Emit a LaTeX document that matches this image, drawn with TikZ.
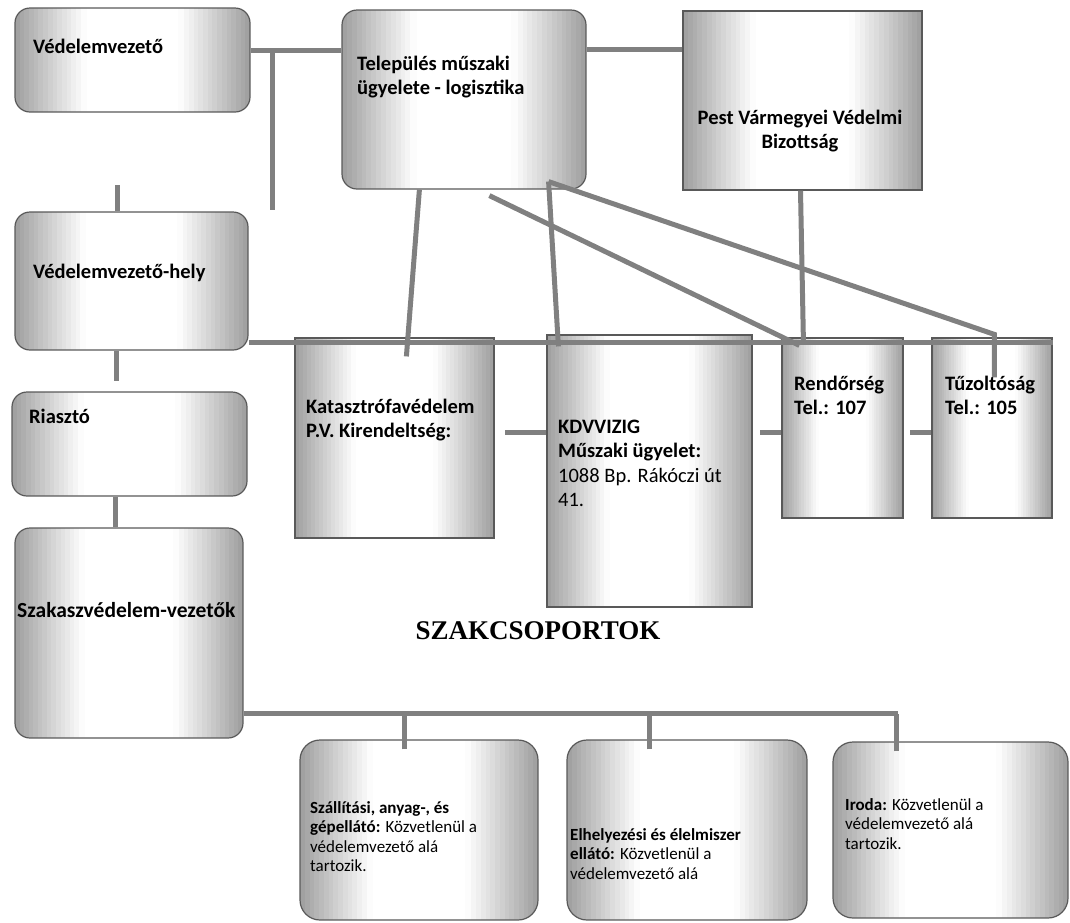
\documentclass[tikz,border=0pt]{standalone}
\usepackage{fontspec}
\setmainfont{Carlito}
\newfontfamily\headfont{Liberation Serif}
\usetikzlibrary{calc}
\tikzset{
  rbox/.style={draw=black!65, line width=1.2pt, rounded corners=15pt, inner sep=0pt, fill=white,
    path picture={
      \foreach \k in {0,...,14}{
        \pgfmathsetmacro\ga{\k/50}
        \pgfmathsetmacro\gb{(\k+1.3)/50}
        \pgfmathsetmacro\gc{38*(1-(\k+0.5)/15)}
        \fill[black!\gc, sharp corners] ($(path picture bounding box.south west)!\ga!(path picture bounding box.south east)$)
          rectangle ($(path picture bounding box.north west)!\gb!(path picture bounding box.north east)$);
        \fill[black!\gc, sharp corners] ($(path picture bounding box.south east)!\ga!(path picture bounding box.south west)$)
          rectangle ($(path picture bounding box.north east)!\gb!(path picture bounding box.north west)$);
      }}},
  sbox/.style={rbox, sharp corners},
  txt/.style={anchor=base west, align=left, inner sep=0pt, font=\fontsize{20.5}{24.5}\selectfont\bfseries},
  small/.style={txt, font=\fontsize{17}{19.5}\selectfont},
  link/.style={draw=black!50, line width=5pt},
}
\begin{document}
\begin{tikzpicture}[x=1pt,y=-1pt]
\useasboundingbox (0,0) rectangle (1070,922);
\node[rbox, minimum width=235pt, minimum height=104pt] (vez) at (132.5,60) {};
\node[rbox, minimum width=244pt, minimum height=179pt] (tel) at (464,99.5) {};
\node[sbox, minimum width=239pt, minimum height=179pt] (pest) at (802.5,100.5) {};
\node[rbox, minimum width=233pt, minimum height=138pt] (hely) at (131.5,281) {};
\node[rbox, minimum width=235pt, minimum height=104pt] (riaszto) at (129.5,444) {};
\node[rbox, minimum width=228pt, minimum height=210pt] (szakasz) at (129,633) {};
\node[sbox, minimum width=199pt, minimum height=200pt] (kat) at (394.5,438) {};
\node[sbox, minimum width=205pt, minimum height=272pt] (kdv) at (649.5,471) {};
\node[sbox, minimum width=121pt, minimum height=180pt] (rend) at (842.5,428) {};
\node[sbox, minimum width=120pt, minimum height=180pt] (tuz) at (992,428) {};
\node[rbox, rounded corners=20pt, minimum width=238pt, minimum height=180pt] (szall) at (419,830) {};
\node[rbox, rounded corners=20pt, minimum width=240pt, minimum height=180pt] (elh) at (687,830) {};
\node[rbox, rounded corners=20pt, minimum width=235pt, minimum height=176pt] (iroda) at (950.5,830) {};

\draw[link] ([yshift=10pt]vez.east) -- ([yshift=10pt]vez.east -| tel.west);
\draw[link] ([yshift=50pt]tel.east) -- ([yshift=50pt]tel.east -| pest.west);
\coordinate (vtop) at (272,50);
\coordinate (vbot) at (272,210);
\draw[link] (vtop) -- (vbot);
\coordinate (stub) at (117,185);
\draw[link] (stub) -- (stub |- hely.north);
\draw[link] ([xshift=-15pt]hely.south) -- ++(0,30);
\draw[link] ([xshift=-14.5pt]riaszto.south) -- ([xshift=-14.5pt]riaszto.south |- szakasz.north);
\coordinate (bus) at (hely.east |- 0,342);
\draw[link] (bus) -- (bus -| tuz.east);
\draw[link] ([xshift=78pt]tel.south west) -- ([xshift=112pt,yshift=-19pt]kat.north west);
\draw[link] ([xshift=-38pt,yshift=8pt]tel.south east) -- ([xshift=12pt,yshift=-12pt]kdv.north west);
\draw[link] ([xshift=-38pt,yshift=8pt]tel.south east) -- ([xshift=63pt,yshift=3pt]tuz.north west)
  -- ([xshift=63pt,yshift=-40pt]tuz.north west);
\draw[link] ([xshift=148pt,yshift=-6pt]tel.south west) -- ([xshift=18pt,yshift=-8pt]rend.north west);
\draw[link] ([xshift=-2pt]pest.south) -- ([xshift=22pt,yshift=-3pt]rend.north west);
\foreach \c/\x/\b in {d1/505/kdv, d2/760/rend, d3/910/tuz}{
  \coordinate (\c) at (\x,432);
  \draw[link] (\c) -- (\c -| \b.west);
}
\coordinate (low) at (szakasz.east |- 0,713);
\draw[link] (low) -- ++(654,0);
\foreach \b/\dx in {szall/105, elh/83, iroda/64}
  \draw[link] ([xshift=\dx pt,yshift=-10pt]\b.north west) -- ++(0,-37);

\node[txt] (tvez) at (33,53) {Védelemvezető};
\node[txt] (ttel) at (357,94.5) {Település műszaki\\ügyelete - logisztika};
\node[txt, anchor=base, align=center] (tpest) at (800,148.5) {Pest Vármegyei Védelmi\\Bizottság};
\node[txt] (thely) at (33,278) {Védelemvezető-hely};
\node[txt] (tria) at (29,423) {Riasztó};
\node[txt, font=\fontsize{21.5}{24.5}\selectfont\bfseries] (tsz) at (17,617) {Szakaszvédelem-vezetők};
\node[txt] (tkat) at (306,437.5) {Katasztrófavédelem\\P.V. Kirendeltség:};
\node[txt] (tkdv) at (558,506.5) {KDVVIZIG\\Műszaki ügyelet:\\{\mdseries 1088 Bp. Rákóczi út}\\{\mdseries 41.}};
\node[txt] (trend) at (794,414.5) {Rendőrség\\Tel.: 107};
\node[txt] (ttuz) at (945,414.5) {Tűzoltóság\\Tel.: 105};
\node[small] (tszall) at (310,871.5) {\textbf{Szállítási, anyag-, és}\\\textbf{gépellátó:} Közvetlenül a\\védelemvezető alá\\tartozik.};
\node[small] (telh) at (570,879) {\textbf{Elhelyezési és élelmiszer}\\\textbf{ellátó:} Közvetlenül a\\védelemvezető alá};
\node[small] (tiroda) at (845,849) {\textbf{Iroda:} Közvetlenül a\\védelemvezető alá\\tartozik.};
\node[font=\headfont\bfseries\fontsize{27}{32}\selectfont, anchor=base, inner sep=0pt] (head) at (538,639) {SZAKCSOPORTOK};
\end{tikzpicture}
\end{document}
